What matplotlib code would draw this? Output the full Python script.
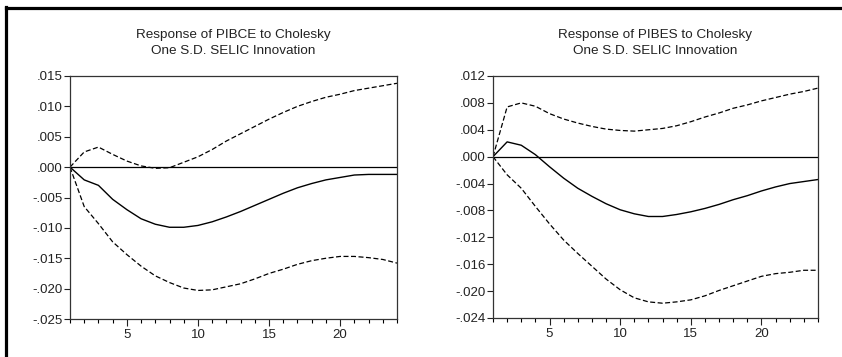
import matplotlib
matplotlib.use("Agg")
import matplotlib.pyplot as plt
from matplotlib.ticker import MultipleLocator, FixedLocator, FuncFormatter
from matplotlib.lines import Line2D

plt.rcParams['font.family'] = ['Liberation Sans', 'DejaVu Sans']

periods = list(range(1, 25))

pibce_resp = [0.0, -0.0021, -0.0030, -0.0053, -0.0070, -0.0085, -0.0094, -0.0099,
              -0.0099, -0.0096, -0.0090, -0.0082, -0.0073, -0.0063, -0.0053, -0.0043,
              -0.0034, -0.0027, -0.0021, -0.0017, -0.0013, -0.0012, -0.0012, -0.0012]
pibce_upper = [0.0, 0.0025, 0.0033, 0.0021, 0.0010, 0.0002, -0.0002, -0.0001,
               0.0008, 0.0017, 0.0029, 0.0043, 0.0055, 0.0067, 0.0079, 0.0090,
               0.0100, 0.0108, 0.0115, 0.0120, 0.0126, 0.0130, 0.0134, 0.0138]
pibce_lower = [0.0, -0.0065, -0.0093, -0.0123, -0.0144, -0.0163, -0.0179, -0.0190,
               -0.0199, -0.0203, -0.0202, -0.0197, -0.0192, -0.0184, -0.0175, -0.0168,
               -0.0160, -0.0154, -0.0150, -0.0147, -0.0147, -0.0149, -0.0152, -0.0158]

pibes_resp = [0.0, 0.0022, 0.0017, 0.0003, -0.0015, -0.0032, -0.0047, -0.0059,
              -0.0070, -0.0079, -0.0085, -0.0089, -0.0089, -0.0086, -0.0082, -0.0077,
              -0.0071, -0.0064, -0.0058, -0.0051, -0.0045, -0.0040, -0.0037, -0.0034]
pibes_upper = [0.0, 0.0074, 0.0080, 0.0075, 0.0064, 0.0056, 0.0050, 0.0045,
               0.0041, 0.0039, 0.0038, 0.0040, 0.0042, 0.0046, 0.0052, 0.0059,
               0.0065, 0.0072, 0.0077, 0.0083, 0.0088, 0.0093, 0.0097, 0.0102]
pibes_lower = [0.0, -0.0027, -0.0047, -0.0074, -0.0100, -0.0124, -0.0144, -0.0163,
               -0.0182, -0.0198, -0.0210, -0.0216, -0.0218, -0.0216, -0.0213, -0.0207,
               -0.0199, -0.0192, -0.0185, -0.0178, -0.0174, -0.0172, -0.0169, -0.0169]

titles = ["Response of PIBCE to Cholesky\nOne S.D. SELIC Innovation",
          "Response of PIBES to Cholesky\nOne S.D. SELIC Innovation"]
ylims = [(-0.025, 0.015), (-0.024, 0.012)]
ysteps = [0.005, 0.004]
xticks_major = [5, 10, 15, 20]

fig = plt.figure(figsize=(8.42, 3.57), dpi=100)

# partial outer frame (left and top edges)
fig.add_artist(Line2D([6/842, 6/842], [0, 1 - 6.5/357], transform=fig.transFigure,
                      color='black', lw=2.3))
fig.add_artist(Line2D([6/842, 1], [1 - 7.5/357, 1 - 7.5/357], transform=fig.transFigure,
                      color='black', lw=2.3))

positions = [[70/842, 1 - 319/357, 327/842, 243/357],
             [493/842, 1 - 318/357, 325/842, 242/357]]
data = [(pibce_resp, pibce_upper, pibce_lower), (pibes_resp, pibes_upper, pibes_lower)]

def fmt(v, pos):
    s = f"{v:.3f}"
    if s.startswith("-0"):
        s = "-" + s[2:]
    elif s.startswith("0"):
        s = s[1:]
    if s == "-.000":
        s = ".000"
    return s

for i in range(2):
    ax = fig.add_axes(positions[i])
    resp, up, lo = data[i]
    ax.axhline(0, color='black', lw=0.9)
    ax.plot(periods, resp, color='black', lw=1.0)
    ax.plot(periods, up, color='black', lw=0.9, ls=(0, (4, 2)))
    ax.plot(periods, lo, color='black', lw=0.9, ls=(0, (4, 2)))
    ax.set_xlim(1, 24)
    ax.set_ylim(*ylims[i])
    ax.yaxis.set_major_locator(MultipleLocator(ysteps[i]))
    ax.yaxis.set_major_formatter(FuncFormatter(fmt))
    ax.xaxis.set_major_locator(FixedLocator(xticks_major))
    ax.xaxis.set_minor_locator(MultipleLocator(1))
    ax.tick_params(axis='both', direction='out', labelsize=9.5, colors='#222222')
    ax.tick_params(axis='x', which='major', length=5, width=0.8, pad=2)
    ax.tick_params(axis='x', which='minor', length=3, width=0.8)
    ax.tick_params(axis='y', length=4, width=0.8, pad=1.5)
    for sp in ax.spines.values():
        sp.set_color('#333333')
        sp.set_linewidth(0.9)
    pos = positions[i]
    fig.text(pos[0] + pos[2] / 2, 1 - 43/357, titles[i], ha='center', va='center',
             fontsize=9.7, linespacing=1.45, color='#222222')

fig.savefig("out.png", dpi=100)
